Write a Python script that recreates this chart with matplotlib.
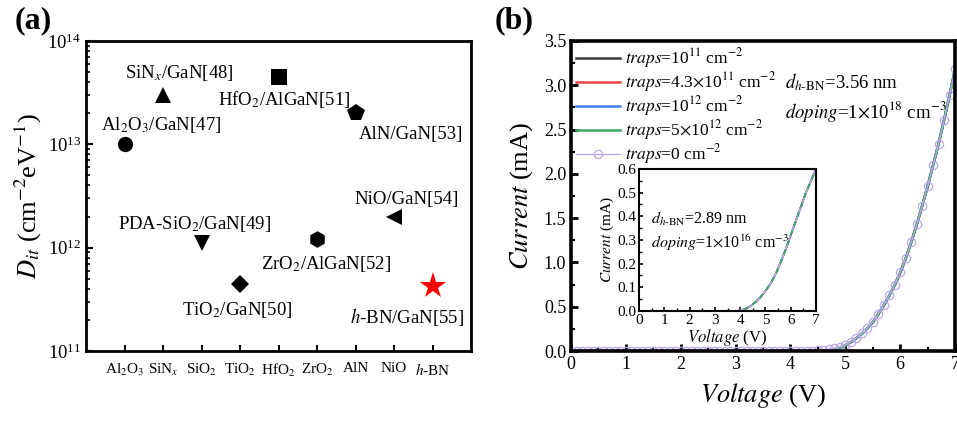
import matplotlib
matplotlib.use('Agg')
import matplotlib.pyplot as plt
from matplotlib.ticker import MultipleLocator, LogLocator, NullFormatter

plt.rcParams['font.family'] = 'Liberation Serif'
plt.rcParams['mathtext.fontset'] = 'stix'

# ---- (a) interface trap density of dielectrics on GaN ----
materials = ['Al$_2$O$_3$', 'SiN$_x$', 'SiO$_2$', 'TiO$_2$', 'HfO$_2$',
             'ZrO$_2$', 'AlN', 'NiO', '$h$-BN']
dit = [1.0e13, 3.0e13, 1.1e12, 4.5e11, 4.5e13, 1.2e12, 2.0e13, 2.0e12, 4.3e11]
markers = ['o', '^', 'v', 'D', 's', 'h', 'p', '<', '*']
marker_sizes = [11, 11, 11, 9, 11, 12, 13, 11, 20]
ref_labels = ['Al$_2$O$_3$/GaN[47]', 'SiN$_x$/GaN[48]', 'PDA-SiO$_2$/GaN[49]',
              'TiO$_2$/GaN[50]', 'HfO$_2$/AlGaN[51]', 'ZrO$_2$/AlGaN[52]',
              'AlN/GaN[53]', 'NiO/GaN[54]', '$h$-BN/GaN[55]']
# label anchor (x, y) in data coords
label_pos = [(1.95, 1.55e13), (2.42, 4.9e13), (2.82, 1.7e12), (3.92, 2.5e11),
             (5.14, 2.7e13), (6.23, 7.0e11), (8.44, 1.25e13), (8.34, 2.9e12),
             (8.34, 2.15e11)]

# ---- (b) I-V curves for different trap densities ----
voltage = [0.0, 0.1, 0.2, 0.3, 0.4, 0.5, 0.6, 0.7, 0.8, 0.9,
           1.0, 1.1, 1.2, 1.3, 1.4, 1.5, 1.6, 1.7, 1.8, 1.9,
           2.0, 2.1, 2.2, 2.3, 2.4, 2.5, 2.6, 2.7, 2.8, 2.9,
           3.0, 3.1, 3.2, 3.3, 3.4, 3.5, 3.6, 3.7, 3.8, 3.9,
           4.0, 4.1, 4.2, 4.3, 4.4, 4.5, 4.6, 4.7, 4.8, 4.9,
           5.0, 5.1, 5.2, 5.3, 5.4, 5.5, 5.6, 5.7, 5.8, 5.9,
           6.0, 6.1, 6.2, 6.3, 6.4, 6.5, 6.6, 6.7, 6.8, 6.9, 7.0]
current_traps = [0.0, 0.0, 0.0, 0.0, 0.0, 0.0, 0.0, 0.0, 0.0, 0.0,
                 0.0, 0.0, 0.0, 0.0, 0.0, 0.0, 0.0, 0.0, 0.0, 0.0,
                 0.0, 0.0, 0.0, 0.0, 0.0, 0.0, 0.0, 0.0, 0.0, 0.0,
                 0.0, 0.0, 0.0, 0.0, 0.0, 0.0, 0.0, 0.0, 0.0, 0.0,
                 0.0, 0.0, 0.0, 0.0, 0.0, 0.0, 0.0, 0.004, 0.018, 0.038,
                 0.065, 0.10, 0.145, 0.195, 0.255, 0.325, 0.415, 0.515, 0.625, 0.745,
                 0.885, 1.045, 1.225, 1.425, 1.64, 1.86, 2.10, 2.34, 2.61, 2.89, 3.18]
current_no_traps = [0.0, 0.0, 0.0, 0.0, 0.0, 0.0, 0.0, 0.0, 0.0, 0.0,
                    0.0, 0.0, 0.0, 0.0, 0.0, 0.0, 0.0, 0.0, 0.0, 0.0,
                    0.0, 0.0, 0.0, 0.0, 0.0, 0.0, 0.0, 0.0, 0.0, 0.0,
                    0.0, 0.0, 0.0, 0.0, 0.0, 0.0, 0.0, 0.0, 0.0, 0.0,
                    0.0, 0.0, 0.001, 0.002, 0.004, 0.007, 0.012, 0.02, 0.032, 0.048,
                    0.07, 0.105, 0.15, 0.20, 0.26, 0.33, 0.42, 0.52, 0.63, 0.75,
                    0.89, 1.05, 1.23, 1.43, 1.64, 1.86, 2.10, 2.34, 2.61, 2.89, 3.18]

inset_voltage = [0.0, 1.0, 2.0, 3.0, 3.6, 3.8, 3.9, 4.0, 4.2, 4.4, 4.6, 4.8,
                 5.0, 5.2, 5.4, 5.6, 5.8, 6.0, 6.2, 6.4, 6.6, 6.8, 7.0]
inset_current = [0.0, 0.0, 0.0, 0.0, 0.0, 0.0, 0.001, 0.002, 0.008, 0.02, 0.037, 0.058,
                 0.085, 0.115, 0.155, 0.205, 0.26, 0.32, 0.38, 0.44, 0.50, 0.55, 0.60]

trap_labels = [r'$\it{traps}$=10$^{11}$ cm$^{-2}$',
               r'$\it{traps}$=4.3$\times$10$^{11}$ cm$^{-2}$',
               r'$\it{traps}$=10$^{12}$ cm$^{-2}$',
               r'$\it{traps}$=5$\times$10$^{12}$ cm$^{-2}$']
trap_colors = ['#3a3a3a', '#f04646', '#3c82e6', '#3aaa64']
no_trap_label = r'$\it{traps}$=0 cm$^{-2}$'
no_trap_color = '#bda6ea'

fig = plt.figure(figsize=(9.57, 4.23), dpi=100)

# ---------------- panel (a) ----------------
ax1 = fig.add_axes([0.0899, 0.1702, 0.4023, 0.7329])
for i in range(len(materials)):
    color = 'red' if markers[i] == '*' else 'black'
    ax1.plot(i + 1, dit[i], marker=markers[i], color=color,
             markersize=marker_sizes[i], linestyle='none', markeredgewidth=0)
    ax1.text(label_pos[i][0], label_pos[i][1], ref_labels[i], fontsize=13.5,
             ha='center', va='center')

ax1.set_yscale('log')
ax1.set_ylim(1e11, 1e14)
ax1.set_xlim(0, 10)
ax1.set_xticks(range(1, 10))
ax1.set_xticklabels(materials, fontsize=11)
ax1.yaxis.set_major_locator(LogLocator(base=10, numticks=10))
ax1.yaxis.set_minor_locator(LogLocator(base=10, subs=range(2, 10), numticks=10))
ax1.yaxis.set_minor_formatter(NullFormatter())
ax1.tick_params(axis='y', which='major', direction='in', length=5, width=1.5,
                labelsize=13.5, right=False)
ax1.tick_params(axis='y', which='minor', direction='in', length=3, width=1.2)
ax1.tick_params(axis='x', which='major', direction='in', length=4, width=1.5,
                pad=8, top=False)
for sp in ax1.spines.values():
    sp.set_linewidth(2)
ax1.set_ylabel('$D_{it}$ (cm$^{-2}$eV$^{-1}$)', fontsize=19, labelpad=2)
fig.text(0.015, 0.952, '(a)', fontsize=23, fontweight='bold', va='center')

# ---------------- panel (b) ----------------
ax2 = fig.add_axes([0.5967, 0.1702, 0.4013, 0.7329])
for lbl, col in zip(trap_labels, trap_colors):
    ax2.plot(voltage, current_traps, color=col, linewidth=1.8, label=lbl)
ax2.plot(voltage, current_no_traps, color=no_trap_color, linewidth=0.9,
         marker='o', markersize=6, markerfacecolor='none',
         markeredgecolor=no_trap_color, markeredgewidth=0.9, label=no_trap_label)

ax2.set_xlim(0, 7)
ax2.set_ylim(0, 3.5)
ax2.xaxis.set_major_locator(MultipleLocator(1))
ax2.xaxis.set_minor_locator(MultipleLocator(0.5))
ax2.yaxis.set_major_locator(MultipleLocator(0.5))
ax2.yaxis.set_minor_locator(MultipleLocator(0.25))
ax2.tick_params(which='major', direction='in', length=5, width=2, labelsize=13)
ax2.tick_params(which='minor', direction='in', length=3, width=1.5)
ax2.tick_params(top=False, right=False, which='both')
for sp in ax2.spines.values():
    sp.set_linewidth(2.6)
ax2.set_xlabel(r'$\it{Voltage}$ (V)', fontsize=19, labelpad=6)
ax2.set_ylabel(r'$\it{Current}$ (mA)', fontsize=19, labelpad=6)

ax2.legend(loc='upper left', frameon=False, fontsize=12.5, handlelength=2.5,
           handletextpad=0.3, labelspacing=0.0, borderaxespad=0.0,
           borderpad=0.3, bbox_to_anchor=(0.0, 1.0))
ax2.text(3.9, 3.03, r'$d_{h\text{-}\mathrm{BN}}$=3.56 nm', fontsize=13.5,
         va='center')
ax2.text(3.9, 2.7, r'$\it{doping}$=1$\times$10$^{18}$ cm$^{-3}$', fontsize=13.5,
         va='center')
fig.text(0.517, 0.952, '(b)', fontsize=23, fontweight='bold', va='center')

# inset: thinner h-BN, low doping
ax3 = fig.add_axes([0.6677, 0.2648, 0.185, 0.3357])
for col in trap_colors:
    ax3.plot(inset_voltage, inset_current, color=col, linewidth=1.2)
ax3.plot(inset_voltage, inset_current, color=no_trap_color, linewidth=1.2,
         linestyle=(0, (3, 3)))
ax3.set_xlim(0, 7)
ax3.set_ylim(0, 0.6)
ax3.xaxis.set_major_locator(MultipleLocator(1))
ax3.xaxis.set_minor_locator(MultipleLocator(0.5))
ax3.yaxis.set_major_locator(MultipleLocator(0.1))
ax3.yaxis.set_minor_locator(MultipleLocator(0.05))
ax3.tick_params(which='major', direction='in', length=3, width=1.2,
                labelsize=11, pad=2)
ax3.tick_params(which='minor', direction='in', length=2, width=1)
ax3.tick_params(top=False, right=False, which='both')
for sp in ax3.spines.values():
    sp.set_linewidth(1.5)
ax3.set_xlabel(r'$\it{Voltage}$ (V)', fontsize=12, labelpad=0)
ax3.set_ylabel(r'$\it{Current}$ (mA)', fontsize=11, labelpad=1)
ax3.text(0.47, 0.39, r'$d_{h\text{-}\mathrm{BN}}$=2.89 nm', fontsize=11.5,
         va='center')
ax3.text(0.47, 0.29, r'$\it{doping}$=1$\times$10$^{16}$ cm$^{-3}$', fontsize=11.5,
         va='center')

fig.savefig('out.png', dpi=100)
